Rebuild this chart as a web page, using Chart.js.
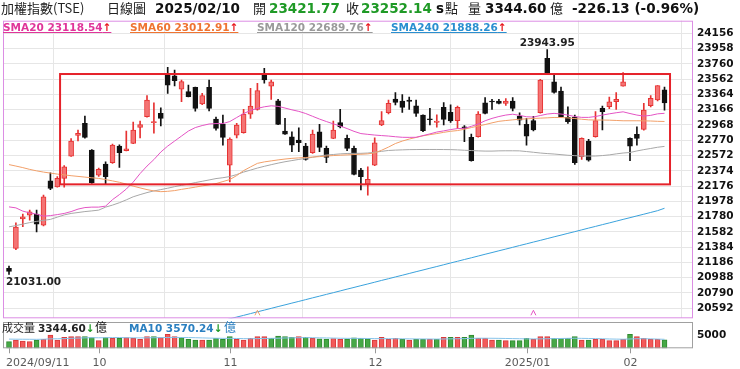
<!DOCTYPE html>
<html><head><meta charset="utf-8">
<script src="https://cdn.jsdelivr.net/npm/chart.js@4.4.1/dist/chart.umd.min.js"></script>
<style>
html,body{margin:0;padding:0;background:#fff;}
#wrap{position:relative;width:740px;height:369px;overflow:hidden;background:#fff;font-family:"DejaVu Sans",sans-serif;}
canvas{position:absolute;left:0;}
.t{position:absolute;white-space:nowrap;line-height:1;}
.cjk{font-family:"Noto Sans CJK TC","Noto Sans CJK SC",sans-serif;font-size:13px;color:#222;}
.hn{font-family:"DejaVu Sans",sans-serif;font-weight:bold;font-size:13.5px;color:#111;}
.g{color:#1f9a26;}
.lg{font-family:"DejaVu Sans",sans-serif;font-weight:bold;font-size:10.5px;text-decoration:underline;}
.up{color:#e8161c;}
.dn{color:#1f9a26;}
</style></head>
<body>
<div id="wrap">
  <canvas id="main" width="740" height="320" style="top:0"></canvas>
  <canvas id="vol" width="740" height="51" style="top:318px"></canvas>

  <span class="t cjk" style="left:1px;top:1px">加權指數(TSE)</span>
  <span class="t cjk" style="left:107px;top:1px">日線圖</span>
  <span class="t hn" style="left:155px;top:2px">2025/02/10</span>
  <span class="t cjk" style="left:253px;top:1px">開</span>
  <span class="t hn g" style="left:269px;top:2px">23421.77</span>
  <span class="t cjk" style="left:346px;top:1px">收</span>
  <span class="t hn g" style="left:361px;top:2px">23252.14</span>
  <span class="t hn" style="left:436px;top:2px">s</span>
  <span class="t cjk" style="left:445px;top:1px">點</span>
  <span class="t cjk" style="left:468px;top:1px">量</span>
  <span class="t hn" style="left:485px;top:2px">3344.60</span>
  <span class="t cjk" style="left:550px;top:1px">億</span>
  <span class="t hn" style="left:572px;top:2px">-226.13 (-0.96%)</span>

  <span class="t lg" style="left:3px;top:22px;color:#e0359a">SMA20 23118.54<span class="up">↑</span></span>
  <span class="t lg" style="left:130px;top:22px;color:#ef7432">SMA60 23012.91<span class="up">↑</span></span>
  <span class="t lg" style="left:257px;top:22px;color:#9a9a9a">SMA120 22689.76<span class="up">↑</span></span>
  <span class="t lg" style="left:391px;top:22px;color:#2a8fd0">SMA240 21888.26<span class="up">↑</span></span>

  <span class="t cjk" style="left:2px;top:322px;font-size:11px">成交量</span>
  <span class="t lg" style="left:38px;top:323px;color:#222;text-decoration:none">3344.60<span class="dn">↓</span></span>
  <span class="t cjk" style="left:95px;top:321px;font-size:12px">億</span>
  <span class="t lg" style="left:129px;top:323px;color:#2a7fc0;text-decoration:none">MA10 3570.24<span class="dn">↓</span></span>
  <span class="t cjk" style="left:224px;top:321px;font-size:12px;color:#2a7fc0">億</span>
</div>
<script>
// ---------------- data ----------------
const dates = [
 "2024/09/11","2024/09/12","2024/09/13","2024/09/16","2024/09/18","2024/09/19","2024/09/20","2024/09/23","2024/09/24","2024/09/25","2024/09/26","2024/09/27","2024/09/30",
 "2024/10/01","2024/10/04","2024/10/07","2024/10/08","2024/10/09","2024/10/11","2024/10/14","2024/10/15","2024/10/16","2024/10/17","2024/10/18","2024/10/21","2024/10/22","2024/10/23","2024/10/24","2024/10/25","2024/10/28","2024/10/29","2024/10/30",
 "2024/11/01","2024/11/04","2024/11/05","2024/11/06","2024/11/07","2024/11/08","2024/11/11","2024/11/12","2024/11/13","2024/11/14","2024/11/15","2024/11/18","2024/11/19","2024/11/20","2024/11/21","2024/11/22","2024/11/25","2024/11/26","2024/11/27","2024/11/28","2024/11/29",
 "2024/12/02","2024/12/03","2024/12/04","2024/12/05","2024/12/06","2024/12/09","2024/12/10","2024/12/11","2024/12/12","2024/12/13","2024/12/16","2024/12/17","2024/12/18","2024/12/19","2024/12/20","2024/12/23","2024/12/24","2024/12/25","2024/12/26","2024/12/27","2024/12/30","2024/12/31",
 "2025/01/02","2025/01/03","2025/01/06","2025/01/07","2025/01/08","2025/01/09","2025/01/10","2025/01/13","2025/01/14","2025/01/15","2025/01/16","2025/01/17","2025/01/20","2025/01/21","2025/01/22",
 "2025/02/03","2025/02/04","2025/02/05","2025/02/06","2025/02/07","2025/02/10"
];
const opens  = [21110,21367,21751,21800,21812,21670,22244,22166,22275,22564,22833,22989,22643,22318,22461,22478,22694,22633,22729,22937,23074,22998,23118,23615,23606,23430,23399,23455,23239,23456,23044,22980,22448,22837,22867,23109,23170,23615,23472,23282,22889,22815,22772,22694,22608,22880,22664,22794,22998,22794,22664,22383,22201,22448,22967,23126,23304,23278,23291,23217,23096,23045,23002,23196,23131,23023,22945,22807,22815,23256,23278,23278,23248,23278,23083,22976,23023,23126,23832,23528,23408,23066,23066,22556,22759,22815,23183,23204,23269,23472,22794,22846,22911,23217,23291,23421.77];
const highs  = [21140,21700,21812,21864,21864,22060,22348,22300,22440,22790,22902,23083,22650,22410,22491,22720,22710,22889,23006,23019,23347,23256,23191,23715,23680,23550,23485,23460,23378,23550,23070,23096,22800,22990,23170,23443,23508,23702,23550,23300,23054,22880,22932,22730,22902,22976,22694,23019,23170,22837,22694,22405,22426,22800,23140,23290,23386,23360,23330,23290,23100,23183,23100,23257,23230,23213,22960,22850,23140,23321,23300,23300,23310,23321,23126,23054,23080,23560,23943.95,23637,23460,23204,23096,22800,22780,23140,23213,23330,23386,23645,22800,22945,23248,23350,23478.27,23460];
const lows   = [21031,21350,21650,21735,21580,21660,22130,22160,22160,22560,22760,22795,22210,22300,22205,22470,22416,22630,22725,22800,23070,22860,22954,23378,23473,23270,23330,23148,23230,23150,22900,22707,22230,22800,22860,23054,23160,23508,23300,22970,22845,22620,22620,22510,22600,22620,22478,22790,22930,22633,22320,22125,22059,22440,22960,23110,23226,23130,23170,23080,22880,22967,22940,22967,23000,22924,22750,22500,22810,23110,23170,23240,23220,23150,22967,22707,22890,23120,23640,23380,23070,22989,22457,22520,22500,22810,22902,23180,23170,23470,22504,22707,22900,23200,23280,23160];
const closes = [21070,21644,21777,21842,21683,22037,22146,22275,22426,22759,22859,22807,22219,22392,22296,22707,22608,22660,22902,22972,23291,23011,23054,23485,23541,23530,23334,23183,23347,23183,22924,22807,22785,22967,23109,23212,23412,23550,23528,22976,22850,22707,22737,22521,22850,22677,22548,22902,22941,22664,22327,22296,22262,22737,23023,23248,23261,23196,23274,23118,22893,23035,23019,23040,23019,23196,22924,22504,23109,23118,23265,23248,23278,23183,23031,22824,22902,23550,23645,23391,23074,23010,22478,22794,22513,23023,23140,23269,23300,23528,22694,22794,23161,23313,23478.27,23252.14];
const volumes = [2630,3300,2900,2630,3300,3560,5280,3300,4350,4620,4620,4620,4220,3030,4220,3970,3970,4220,3970,3560,4620,4620,4220,5545,4620,4220,3560,3300,3300,3300,3970,3560,4620,3560,3300,3970,4620,4620,3970,4880,4620,4350,4620,4350,4000,3800,3700,3900,3600,3700,4200,4000,3800,3300,4350,3560,3970,3560,3300,3560,3560,3560,3560,4350,4350,4350,4350,5280,3970,3970,3300,3300,3030,3030,3030,3970,3560,4620,4620,3970,3970,3970,4620,3300,3300,3560,3560,3030,3030,3560,5545,4620,3970,3560,3560,3344.6];
const volMA10 = [3650,3620,3600,3580,3560,3600,3750,3780,3850,3950,4050,4150,4200,4180,4200,4250,4280,4200,4150,4120,4150,4200,4230,4300,4320,4280,4250,4200,4120,4050,4000,3950,3950,3900,3850,3800,3850,3900,3950,4000,4100,4150,4200,4250,4200,4150,4100,4050,4000,3950,3950,3920,3900,3850,3850,3820,3800,3780,3750,3720,3700,3680,3650,3700,3750,3800,3850,3950,4000,4000,3980,3950,3900,3850,3800,3750,3720,3750,3800,3850,3900,3950,4000,3950,3900,3850,3800,3700,3650,3600,3700,3800,3800,3750,3650,3570.24];
const sma20 = [21906,21893,21851,21828,21812,21786,21793,21806,21821,21845,21877,21897,21903,21903,21916,22000,22065,22137,22227,22338,22435,22519,22617,22694,22759,22824,22889,22934,22960,22980,22986,22986,23012,23064,23116,23155,23183,23203,23216,23209,23187,23164,23144,23116,23080,23044,23012,22982,22954,22921,22885,22856,22846,22837,22830,22824,22815,22808,22807,22808,22830,22852,22876,22891,22908,22921,22924,22950,22980,23022,23053,23077,23096,23107,23092,23074,23070,23090,23109,23118,23109,23096,23077,23066,23066,23077,23096,23112,23126,23138,23116,23096,23083,23092,23112,23118.54];
const sma60 = [22454,22435,22415,22392,22373,22357,22344,22331,22321,22310,22301,22292,22283,22275,22260,22243,22225,22201,22175,22152,22130,22113,22103,22108,22117,22133,22147,22162,22178,22191,22208,22234,22260,22312,22376,22424,22470,22489,22502,22515,22526,22535,22541,22546,22552,22557,22565,22571,22576,22580,22584,22588,22593,22606,22640,22681,22727,22759,22785,22806,22827,22842,22856,22872,22886,22895,22912,22934,22954,22973,22995,23015,23025,23034,23042,23047,23052,23056,23060,23065,23064,23059,23051,23042,23034,23032,23032,23030,23026,23022,23022,23022,23021,23019,23015,23012.91];
const sma120 = [21648,21663,21683,21702,21718,21731,21744,21773,21802,21821,21833,21845,21854,21864,21903,21929,21960,21997,22037,22065,22091,22113,22130,22148,22168,22185,22201,22221,22238,22255,22273,22284,22299,22325,22357,22383,22409,22432,22453,22473,22491,22506,22521,22535,22549,22565,22578,22585,22593,22598,22600,22600,22604,22614,22626,22637,22642,22645,22648,22649,22650,22650,22650,22649,22648,22645,22640,22636,22632,22629,22629,22632,22633,22633,22632,22623,22614,22604,22597,22591,22583,22575,22570,22565,22565,22565,22571,22580,22593,22604,22611,22631,22648,22663,22679,22689.76];
const sma240 = [null,null,null,null,null,null,null,null,null,null,null,null,null,null,null,null,null,null,null,null,null,null,null,null,null,null,null,null,null,null,null,
 20430,20455,20478,20500,20523,20546,20568,20591,20614,20636,20659,20681,20704,20727,20749,20772,20794,20817,20840,20862,20885,20907,20930,20953,20975,20998,21020,21043,21066,21088,21111,21133,21156,21179,21201,21224,21246,21269,21292,21314,21337,21359,21382,21405,21427,21450,21472,21495,21518,21540,21563,21585,21608,21631,21653,21676,21698,21721,21744,21766,21789,21811,21834,21857,21888.26];
const maPeriods = [20, 60, 120, 240];
const priceTicks = [24156,23958,23760,23562,23364,23166,22968,22770,22572,22374,22176,21978,21780,21582,21384,21186,20988,20790,20592];
const volumeTicks = [5000];
const monthLabels = ["2024/09/11","10","11","12","2025/01","02"];
// highlighted consolidation zone (data units: candle index range, price range)
const zone = {fromIdx:7.4, toIdx:95.8, top:23628, bottom:22198};

// ---------------- derived ----------------
const n = dates.length;
const idx = dates.map((d,i)=>i);
const monthIdx = idx.filter(i => i===0 || dates[i].slice(0,7)!==dates[i-1].slice(0,7));
const isUp = idx.map(i => closes[i] >= opens[i]);
const volUp = idx.map(i => i===0 ? closes[0]>=opens[0] : closes[i] >= closes[i-1]);
const XMIN = -0.87, XMAX = 99.13;
const MA_COLORS = ['#e454c4','#f2a06a','#a8a8a8','#3aa2dc'];

const RED_FILL='#f47474', RED_LINE='#e63232', BLK='#111111';
const VR_FILL='#f35a5a', VR_LINE='#d83a3a', VG_FILL='#46a846', VG_LINE='#2f8a2f';

Chart.defaults.font.family = '"DejaVu Sans", sans-serif';
Chart.defaults.animation = false;

const overlay = {
  id:'overlay',
  afterDatasetsDraw(chart){
    const {ctx, chartArea:a, scales:{x,y}} = chart;
    ctx.save();
    // zone box
    ctx.strokeStyle='#e5222a'; ctx.lineWidth=2;
    const x1=x.getPixelForValue(zone.fromIdx), x2=x.getPixelForValue(zone.toIdx);
    const y1=y.getPixelForValue(zone.top), y2=y.getPixelForValue(zone.bottom);
    ctx.strokeRect(x1,y1,x2-x1,y2-y1);
    // MA deduction markers (扣抵)
    ctx.lineWidth=1;
    maPeriods.forEach((p,k)=>{
      const di = n - p; if(di < 0) return;
      const px = x.getPixelForValue(di), py = a.bottom - 6;
      ctx.strokeStyle = MA_COLORS[k];
      ctx.beginPath(); ctx.moveTo(px-2.5,py+3); ctx.lineTo(px,py-2); ctx.lineTo(px+2.5,py+3); ctx.stroke();
    });
    // high / low labels
    let hi=0, lo=0;
    idx.forEach(i=>{ if(highs[i]>highs[hi]) hi=i; if(lows[i]<lows[lo]) lo=i; });
    ctx.font='bold 10.5px "DejaVu Sans"'; ctx.fillStyle='#222';
    ctx.textBaseline='bottom'; ctx.textAlign='center';
    ctx.fillText(highs[hi].toFixed(2), x.getPixelForValue(hi), y.getPixelForValue(highs[hi])-1);
    ctx.textBaseline='top'; ctx.textAlign='left';
    const lt = lows[lo].toFixed(2), lw = ctx.measureText(lt).width;
    ctx.fillText(lt, Math.max(a.left+3, x.getPixelForValue(lo)-lw/2), y.getPixelForValue(lows[lo])+3);
    // panel border
    ctx.strokeStyle='#dc8ee4'; ctx.lineWidth=1;
    ctx.strokeRect(a.left+0.5,a.top+0.5,a.width-1,a.height-1);
    ctx.restore();
  }
};

const fitY = s => { s.width = 47; s.paddingTop = 0; s.paddingBottom = 0; };

new Chart(document.getElementById('main'), {
  type:'bar',
  data:{
    datasets:[
      {type:'line', data:idx.map(i=>({x:i,y:sma20[i]})), borderColor:MA_COLORS[0], borderWidth:1, pointRadius:0, order:0},
      {type:'line', data:idx.map(i=>({x:i,y:sma60[i]})), borderColor:MA_COLORS[1], borderWidth:1, pointRadius:0, order:0},
      {type:'line', data:idx.map(i=>({x:i,y:sma120[i]})), borderColor:MA_COLORS[2], borderWidth:1, pointRadius:0, order:0},
      {type:'line', data:idx.map(i=>({x:i,y:sma240[i]})), borderColor:MA_COLORS[3], borderWidth:1, pointRadius:0, order:0, spanGaps:false},
      {data:idx.map(i=>({x:i,y:[opens[i],closes[i]]})), barThickness:5, minBarLength:1, grouped:false, order:1,
        backgroundColor:c=>isUp[c.dataIndex]?RED_FILL:BLK, borderColor:c=>isUp[c.dataIndex]?RED_LINE:BLK,
        borderWidth:1, borderSkipped:false},
      {data:idx.map(i=>({x:i,y:[lows[i],highs[i]]})), barThickness:1, grouped:false, order:2,
        backgroundColor:c=>isUp[c.dataIndex]?RED_LINE:BLK, borderWidth:0}
    ]
  },
  options:{
    responsive:false, devicePixelRatio:1, animation:false,
    layout:{padding:{top:20.7,left:3,right:0,bottom:1.7}},
    plugins:{legend:{display:false}, tooltip:{enabled:false}},
    scales:{
      x:{type:'linear', min:XMIN, max:XMAX, offset:false,
        afterBuildTicks:s=>{s.ticks=monthIdx.map(v=>({value:v}));},
        afterFit:s=>{s.height=0; s.paddingLeft=0; s.paddingRight=0;},
        grid:{color:'#e6e6e6', drawTicks:false}, border:{display:false}, ticks:{display:false}},
      y:{position:'right', min:20462, max:24319,
        afterBuildTicks:s=>{s.ticks=priceTicks.map(v=>({value:v}));},
        afterFit:fitY,
        grid:{color:'#e6e6e6', drawTicks:false}, border:{display:false},
        ticks:{autoSkip:false, padding:4, color:'#111', font:{size:10.5, weight:'bold'}, callback:v=>String(v)}}
    }
  },
  plugins:[overlay]
});

const volOverlay = {
  id:'volOverlay',
  afterDraw(chart){
    const {ctx, chartArea:a, scales:{x}} = chart;
    ctx.save();
    ctx.strokeStyle='#a0a0a0'; ctx.lineWidth=1;
    ctx.strokeRect(a.left+0.5,a.top+0.5,a.width-1,a.height-1);
    ctx.strokeStyle='#999';
    ctx.font='11px "DejaVu Sans"'; ctx.fillStyle='#5a5a5a'; ctx.textBaseline='middle';
    monthIdx.forEach((m,k)=>{
      const px=Math.round(x.getPixelForValue(m))+0.5;
      ctx.beginPath(); ctx.moveTo(px,a.bottom); ctx.lineTo(px,a.bottom+5); ctx.stroke();
      const t=monthLabels[k], w=ctx.measureText(t).width;
      let lx=px-w/2; if(lx<a.left+3) lx=a.left+3;
      ctx.textAlign='left'; ctx.fillText(t,lx,45);
    });
    ctx.restore();
  }
};

new Chart(document.getElementById('vol'), {
  type:'bar',
  data:{datasets:[
    {type:'line', data:idx.map(i=>({x:i,y:volMA10[i]})), borderColor:'#86c3ea', borderWidth:1, pointRadius:0, order:0},
    {data:idx.map(i=>({x:i,y:volumes[i]})), barThickness:5, grouped:false, order:1,
      backgroundColor:c=>volUp[c.dataIndex]?VR_FILL:VG_FILL, borderColor:c=>volUp[c.dataIndex]?VR_LINE:VG_LINE, borderWidth:1, borderSkipped:false}
  ]},
  options:{
    responsive:false, devicePixelRatio:1, animation:false,
    layout:{padding:{top:4,left:3,right:0,bottom:0}},
    plugins:{legend:{display:false}, tooltip:{enabled:false}},
    scales:{
      x:{type:'linear', min:XMIN, max:XMAX, offset:false,
        afterBuildTicks:s=>{s.ticks=monthIdx.map(v=>({value:v}));},
        afterFit:s=>{s.height=20.7; s.paddingLeft=0; s.paddingRight=0;},
        grid:{display:false}, border:{display:false}, ticks:{display:false}},
      y:{position:'right', min:0, max:10436,
        afterBuildTicks:s=>{s.ticks=volumeTicks.map(v=>({value:v}));},
        afterFit:fitY,
        grid:{display:false, drawTicks:false}, border:{display:false},
        ticks:{autoSkip:false, padding:4, color:'#111', font:{size:10.5, weight:'bold'}, callback:v=>String(v)}}
    }
  },
  plugins:[volOverlay]
});
</script>
</body></html>
